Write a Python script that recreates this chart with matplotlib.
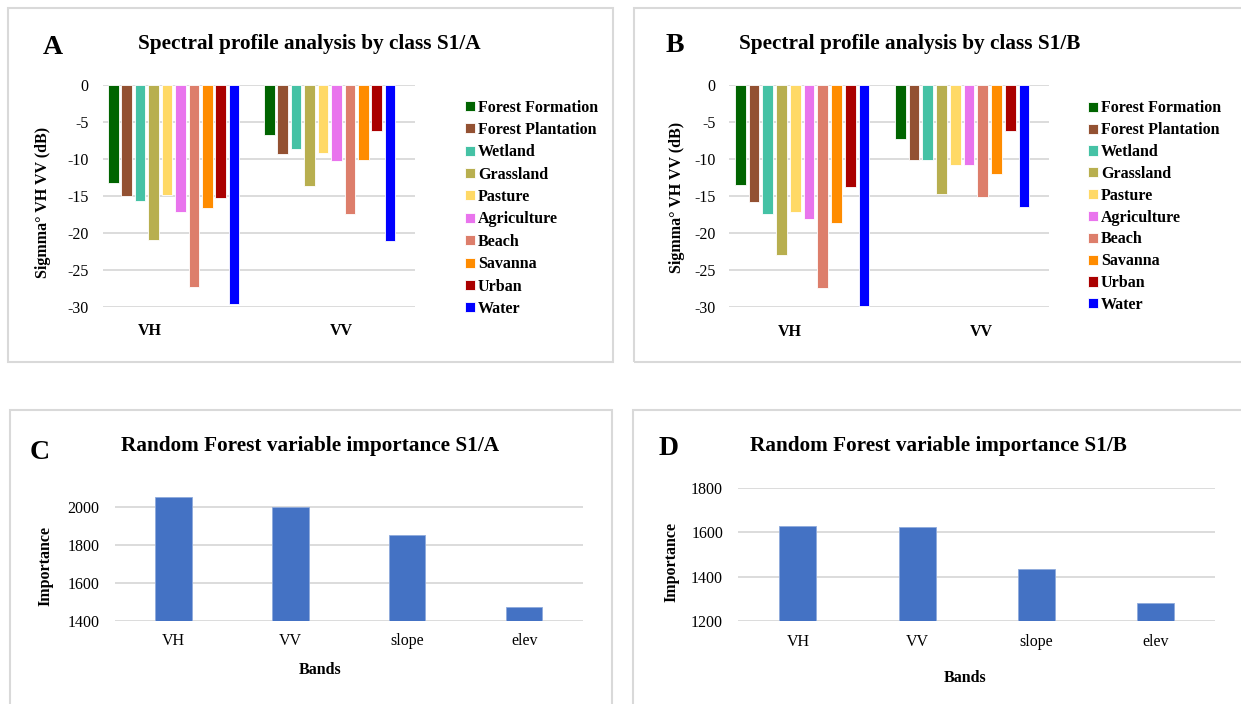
import numpy as np
import matplotlib
matplotlib.use('Agg')
import matplotlib.pyplot as plt
from matplotlib.patches import Rectangle

plt.rcParams['font.family'] = ['Liberation Serif', 'DejaVu Serif']
plt.rcParams['axes.unicode_minus'] = False

W, H = 1241, 704

# classes and colours (MapBiomas style)
classes = ['Forest Formation', 'Forest Plantation', 'Wetland', 'Grassland', 'Pasture',
           'Agriculture', 'Beach', 'Savanna', 'Urban', 'Water']
class_colors = ['#006400', '#935132', '#45C2A5', '#B8AF4F', '#FFD966',
                '#E974ED', '#DD7E6B', '#FF8C00', '#AA0000', '#0000FF']
sar_bands = ['VH', 'VV']

# mean sigma0 per class (dB), same order as classes
s1a_vh = [-13.2, -15.0, -15.65, -21.0, -14.95, -17.2, -27.4, -16.6, -15.3, -29.7]
s1a_vv = [-6.8, -9.3, -8.7, -13.7, -9.2, -10.25, -17.4, -10.1, -6.25, -21.05]
s1b_vh = [-13.55, -15.75, -17.4, -23.0, -17.2, -18.15, -27.4, -18.7, -13.8, -29.8]
s1b_vv = [-7.2, -10.1, -10.15, -14.65, -10.8, -10.85, -15.1, -11.95, -6.15, -16.45]

# random forest importance
rf_bands = ['VH', 'VV', 'slope', 'elev']
rf_s1a = [2053, 1998, 1851, 1472]
rf_s1b = [1627, 1623, 1434, 1281]

GRID = '#d9d9d9'
BORDER = '#d9d9d9'
BLUE = '#4472C4'

fig = plt.figure(figsize=(W / 100, H / 100), dpi=100)


def px_axes(x0, y0, x1, y1):
    return fig.add_axes([x0 / W, 1 - y1 / H, (x1 - x0) / W, (y1 - y0) / H])


def px_text(x, y, s, **kw):
    return fig.text(x / W, 1 - y / H, s, **kw)


def panel_box(x0, y0, x1, y1):
    fig.add_artist(Rectangle((x0 / W, 1 - y1 / H), (x1 - x0) / W, (y1 - y0) / H,
                             transform=fig.transFigure, fill=False,
                             edgecolor=BORDER, linewidth=1.5))


def clean(ax, pad_y):
    for sp in ax.spines.values():
        sp.set_visible(False)
    ax.set_axisbelow(True)
    ax.yaxis.grid(True, color=GRID, linewidth=1.3)
    ax.tick_params(axis='both', length=0, labelsize=11.5)
    ax.tick_params(axis='y', pad=pad_y)


def spectral_panel(box, vh, vv, lab_pos, leg_xy, leg_space):
    ax = px_axes(*box)
    clean(ax, 10)
    slot, bw, shift = 0.086, 0.068, -0.045
    handles = []
    for i, name in enumerate(classes):
        xs = np.arange(2) + (i - 4.5) * slot + shift
        b = ax.bar(xs, [vh[i], vv[i]], width=bw, color=class_colors[i],
                   edgecolor='white', linewidth=0.6, label=name)
        handles.append(b)
    ax.set_xlim(-0.5, 1.5)
    ax.set_ylim(-30, 0)
    ax.set_yticks(np.arange(-30, 1, 5))
    ax.set_xticks(lab_pos)
    ax.set_xticklabels(sar_bands, fontweight='bold')
    ax.tick_params(axis='x', pad=12)
    ax.legend(handles, classes, loc='upper left',
              bbox_to_anchor=(leg_xy[0] / W, 1 - leg_xy[1] / H),
              bbox_transform=fig.transFigure, frameon=False,
              prop={'weight': 'bold', 'size': 11.5},
              handlelength=0.6, handleheight=0.6, handletextpad=0.2,
              labelspacing=leg_space, borderpad=0, borderaxespad=0)
    return ax


def rf_panel(box, vals, ylim, ticks):
    ax = px_axes(*box)
    clean(ax, 11)
    ax.bar(np.arange(len(rf_bands)), vals, width=0.31, color=BLUE,
           edgecolor='#8faadc', linewidth=0.6)
    ax.set_xlim(-0.5, len(rf_bands) - 0.5)
    ax.set_ylim(*ylim)
    ax.set_yticks(ticks)
    ax.set_xticks(np.arange(len(rf_bands)))
    ax.set_xticklabels(rf_bands)
    ax.tick_params(axis='x', pad=9)
    return ax


# panel frames
panel_box(7.5, 7.5, 612.5, 362)
panel_box(634, 7.5, 1245, 362)
panel_box(9.5, 410, 611.5, 710)
panel_box(632.5, 410, 1245, 710)

# A
spectral_panel((102.7, 85, 414.7, 306.7), s1a_vh, s1a_vv, [-0.197, 1.032], (465, 99.5), 0.40)
px_text(43, 54, 'A', fontsize=20, fontweight='bold', va='baseline')
px_text(309.5, 48.5, 'Spectral profile analysis by class S1/A', fontsize=15.3,
        fontweight='bold', ha='center', va='baseline')
px_text(43, 202, 'Sigmma° VH VV (dB)', fontsize=11.5, fontweight='bold',
        rotation=90, ha='center', va='center')

# B
spectral_panel((729.3, 85.3, 1049.3, 307), s1b_vh, s1b_vv, [-0.12, 1.078], (1088, 100.5), 0.365)
px_text(666, 51.7, 'B', fontsize=20, fontweight='bold', va='baseline')
px_text(910, 49.3, 'Spectral profile analysis by class S1/B', fontsize=15.3,
        fontweight='bold', ha='center', va='baseline')
px_text(676.7, 197, 'Sigmma° VH VV (dB)', fontsize=11.5, fontweight='bold',
        rotation=90, ha='center', va='center')

# C
rf_panel((115, 487.7, 582.7, 620.7), rf_s1a, (1400, 2100), [1400, 1600, 1800, 2000])
px_text(30, 459, 'C', fontsize=20, fontweight='bold', va='baseline')
px_text(310, 450.7, 'Random Forest variable importance S1/A', fontsize=15.3,
        fontweight='bold', ha='center', va='baseline')
px_text(45, 565.7, 'Importance', fontsize=11.5, fontweight='bold',
        rotation=90, ha='center', va='center')
px_text(320, 674, 'Bands', fontsize=11.5, fontweight='bold', ha='center', va='baseline')

# D
rf_panel((738.3, 487.7, 1215, 621), rf_s1b, (1200, 1800), [1200, 1400, 1600, 1800])
px_text(659, 455, 'D', fontsize=20, fontweight='bold', va='baseline')
px_text(938, 450.7, 'Random Forest variable importance S1/B', fontsize=15.3,
        fontweight='bold', ha='center', va='baseline')
px_text(671.7, 561.7, 'Importance', fontsize=11.5, fontweight='bold',
        rotation=90, ha='center', va='center')
px_text(965, 681.7, 'Bands', fontsize=11.5, fontweight='bold', ha='center', va='baseline')

fig.savefig('out.png', dpi=100, facecolor='white')
